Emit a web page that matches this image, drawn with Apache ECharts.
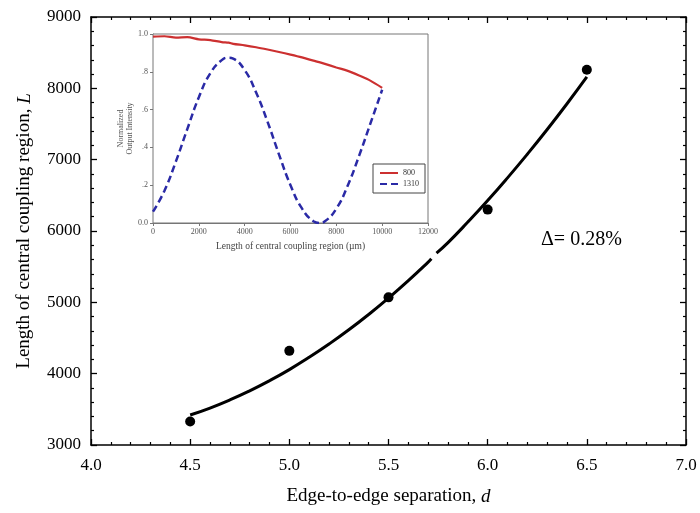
<!DOCTYPE html>
<html><head><meta charset="utf-8">
<script src="https://cdn.jsdelivr.net/npm/echarts@6/dist/echarts.min.js"></script>
<style>html,body{margin:0;padding:0;background:#fff}#c{width:700px;height:513px}</style>
</head><body><div id="c"></div>
<script>
// Main chart: measured points
var sepD = [4.5, 5.0, 5.5, 6.0, 6.5];
var lenL = [3330, 4320, 5070, 6300, 8260];
// Fitted curve; null marks the small break in the drawn curve
var fitD = [4.5, 4.6, 4.7, 4.8, 4.9, 5.0, 5.1, 5.2, 5.3, 5.4, 5.5, 5.6, 5.7, 5.716, 5.73, 5.742, 5.8, 5.9, 6.0, 6.1, 6.2, 6.3, 6.4, 6.5];
var fitL = [3420, 3518, 3631, 3759, 3901, 4057, 4229, 4415, 4615, 4830, 5060, 5304, 5563, 5610, null, 5690, 5837, 6125, 6427, 6745, 7077, 7423, 7784, 8160];
// Inset: normalized output intensity vs coupling length (µm)
var insetX = [0, 500, 1000, 1500, 2000, 2500, 3000, 3300, 3500, 4000, 4500, 5000, 5500, 6000, 6500, 7000, 7250, 7500, 8000, 8500, 9000, 9500, 10000];
var out800 = [0.986, 0.988, 0.981, 0.983, 0.972, 0.968, 0.957, 0.954, 0.948, 0.940, 0.930, 0.918, 0.905, 0.891, 0.876, 0.859, 0.851, 0.842, 0.823, 0.805, 0.780, 0.752, 0.715];
var out1310 = [0.060, 0.171, 0.326, 0.498, 0.665, 0.792, 0.862, 0.875, 0.870, 0.809, 0.690, 0.535, 0.362, 0.200, 0.077, 0.009, 0.000, 0.009, 0.076, 0.199, 0.358, 0.531, 0.705];

var serif = 'Liberation Serif';
function pairs(a, b){ return a.map(function(v,i){ return [v, b[i]]; }); }

var chart = echarts.init(document.getElementById('c'));
var axisBlack = {lineStyle:{color:'#000', width:1.5}};
var tickIn = {inside:true, length:6, lineStyle:{color:'#000', width:1.3}};
var minorIn = {show:true, splitNumber:5, length:3, lineStyle:{color:'#000', width:1.2}};
var insetGray = '#777';
function plain(v){ return String(v); }

chart.setOption({
  animation:false,
  grid:[
    {left:91, top:17, width:595, height:428},
    {left:153, top:34, width:275, height:189, show:true, backgroundColor:'#fff', borderColor:insetGray, borderWidth:1, z:3}
  ],
  legend:{
    data:['800','1310'], left:373, top:164, orient:'vertical', itemGap:3,
    itemWidth:18, itemHeight:6, padding:[5,6,5,6], borderColor:'#444', borderWidth:1, backgroundColor:'#fff',
    itemStyle:{opacity:0}, 
    textStyle:{fontFamily:serif, fontSize:8, color:'#333'}, z:10
  },
  xAxis:[
    {gridIndex:0, type:'value', min:4, max:7, interval:0.5, axisLine:axisBlack, axisTick:tickIn, minorTick:minorIn, splitLine:{show:false},
     axisLabel:{fontFamily:serif, fontSize:17, color:'#000', margin:12, formatter:function(v){return v.toFixed(1);}},
     name:'Edge-to-edge separation, {i|d}', nameLocation:'middle', nameGap:42,
     nameTextStyle:{fontFamily:serif, fontSize:19, color:'#000', rich:{i:{fontFamily:serif, fontStyle:'italic', fontSize:19}}}},
    {gridIndex:0, type:'value', position:'top', min:4, max:7, interval:0.5, axisLine:axisBlack, axisTick:tickIn, minorTick:minorIn, splitLine:{show:false}, axisLabel:{show:false}},
    {gridIndex:1, type:'value', min:0, max:12000, interval:2000, axisLine:{lineStyle:{color:insetGray, width:1}}, axisTick:{length:3, lineStyle:{color:insetGray}}, splitLine:{show:false},
     axisLabel:{fontFamily:serif, fontSize:8, color:'#555', margin:5, formatter:plain},
     name:'Length of central coupling region (µm)', nameLocation:'middle', nameGap:18,
     nameTextStyle:{fontFamily:serif, fontSize:9.5, color:'#444'}}
  ],
  yAxis:[
    {gridIndex:0, type:'value', min:3000, max:9000, interval:1000, axisLine:axisBlack, axisTick:tickIn, minorTick:minorIn, splitLine:{show:false},
     axisLabel:{fontFamily:serif, fontSize:17, color:'#000', margin:10, formatter:plain},
     name:'Length of central coupling region, {i|L}', nameLocation:'middle', nameGap:57,
     nameTextStyle:{fontFamily:serif, fontSize:19, color:'#000', rich:{i:{fontFamily:serif, fontStyle:'italic', fontSize:19}}}},
    {gridIndex:0, type:'value', position:'right', min:3000, max:9000, interval:1000, axisLine:axisBlack, axisTick:tickIn, minorTick:minorIn, splitLine:{show:false}, axisLabel:{show:false}},
    {gridIndex:1, type:'value', min:0, max:1, interval:0.2, axisLine:{lineStyle:{color:insetGray, width:1}}, axisTick:{length:3, lineStyle:{color:insetGray}}, splitLine:{show:false},
     axisLabel:{fontFamily:serif, fontSize:8, color:'#555', margin:5, formatter:function(v){ if(v===0) return '0.0'; if(v===1) return '1.0'; return v.toFixed(1).replace(/^0/,''); }},
     name:'Normalized\nOutput Intensity', nameLocation:'middle', nameGap:18,
     nameTextStyle:{fontFamily:serif, fontSize:8, color:'#555', lineHeight:9}}
  ],
  series:[
    {type:'line', name:'fit', xAxisIndex:0, yAxisIndex:0, data:pairs(fitD, fitL), smooth:true, showSymbol:false, symbol:'none', connectNulls:false,
     lineStyle:{color:'#000', width:3}},
    {type:'scatter', name:'data', xAxisIndex:0, yAxisIndex:0, data:pairs(sepD, lenL), symbolSize:10, itemStyle:{color:'#000', opacity:1}},
    {type:'line', name:'800', xAxisIndex:2, yAxisIndex:2, data:pairs(insetX, out800), smooth:0.3, showSymbol:false, symbol:'none',
     lineStyle:{color:'#cc3030', width:2.2}, itemStyle:{color:'#cc3030'}, z:5},
    {type:'line', name:'1310', xAxisIndex:2, yAxisIndex:2, data:pairs(insetX, out1310), smooth:true, showSymbol:false, symbol:'none',
     lineStyle:{color:'#2a2aa6', width:2.5, type:[7,4]}, itemStyle:{color:'#2a2aa6'}, z:5}
  ],
  graphic:[
    {type:'text', left:541, top:230, style:{text:'\u0394= 0.28%', font:'20px "Liberation Serif"', fill:'#000'}}
  ]
});
</script></body></html>
